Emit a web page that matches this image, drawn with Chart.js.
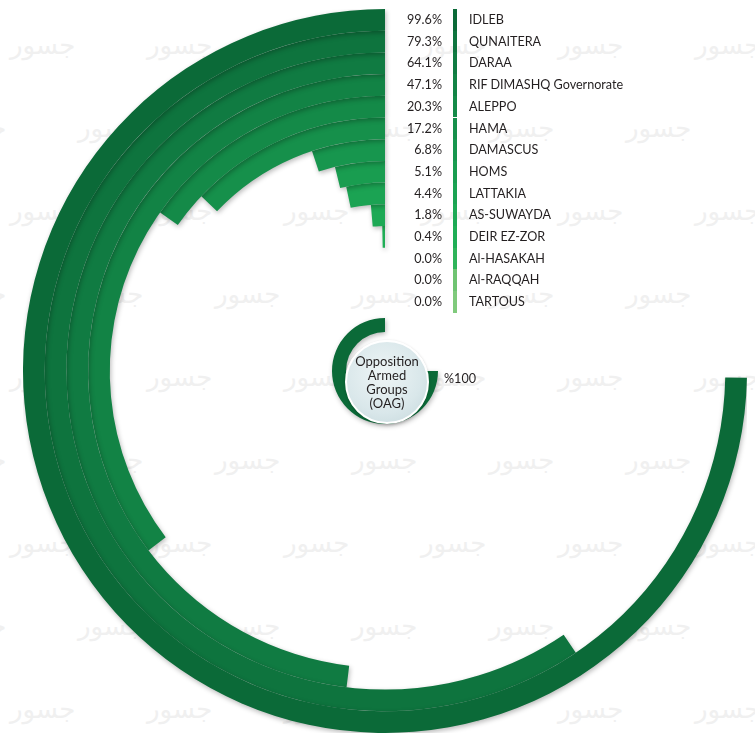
<!DOCTYPE html>
<html lang="en">
<head>
    <meta charset="UTF-8">
    <title>Opposition Armed Groups by governorate</title>
    <script src="https://cdn.jsdelivr.net/npm/chart.js"></script>
    <style>
        body {
            margin: 0;
            background-color: #fff;
            font-family: 'Lato', 'Open Sans', sans-serif;
            color: #231f20;
        }
        #wrap {
            position: relative;
            width: 755px;
            height: 739px;
            overflow: hidden;
        }
        #marks span {
            position: absolute;
            font-family: 'DejaVu Sans', sans-serif;
            font-size: 26px;
            color: #f0f0f0;
            white-space: nowrap;
        }
        #ringChart {
            position: absolute;
            left: 23px;
            top: 9px;
        }
        .row {
            position: absolute;
            height: 21.7px;
            line-height: 21.7px;
            font-size: 12.6px;
        }
        .pct {
            left: 380px;
            width: 62px;
            text-align: right;
        }
        .name {
            left: 469px;
            white-space: nowrap;
        }
        .strip {
            left: 453px;
            width: 4px;
        }
        #oagCircle {
            position: absolute;
            left: 345px;
            top: 340px;
            width: 80px;
            height: 80px;
            border-radius: 50%;
            border: 2px solid #fff;
            background: radial-gradient(circle at 45% 40%, #eef5f6 0%, #d9e7ea 60%, #c3d6da 100%);
            box-shadow: 0 1px 3px rgba(0,0,0,0.25);
            display: flex;
            align-items: center;
            justify-content: center;
            text-align: center;
            font-size: 13px;
            line-height: 14px;
        }
        #oagValue {
            position: absolute;
            left: 444px;
            top: 371px;
            font-size: 12.6px;
        }
    </style>
</head>
<body>

<div id="wrap">
    <div id="marks"></div>
    <canvas id="ringChart" width="724" height="724"></canvas>
    <div id="legend"></div>
    <div id="oagCircle">Opposition<br>Armed<br>Groups<br>(OAG)</div>
    <div id="oagValue"></div>
</div>

<script>
    // values (share of each governorate, %)
    const regions = ['IDLEB', 'QUNAITERA', 'DARAA', 'RIF DIMASHQ Governorate', 'ALEPPO', 'HAMA',
        'DAMASCUS', 'HOMS', 'LATTAKIA', 'AS-SUWAYDA', 'DEIR EZ-ZOR', 'Al-HASAKAH', 'Al-RAQQAH', 'TARTOUS'];
    const shares = [99.6, 79.3, 64.1, 47.1, 20.3, 17.2, 6.8, 5.1, 4.4, 1.8, 0.4, 0.0, 0.0, 0.0];
    const oagShare = 100;
    const oagValueLabel = '%100';

    const ringColors = ['#0b6a38', '#0e743e', '#107b42', '#128345', '#148a48', '#16904b',
        '#17964e', '#199d50', '#1ba353', '#1da955', '#20ae56', '#2fb45a', '#6fc472', '#80ca7c'];
    const clear = 'rgba(0,0,0,0)';

    // watermark layer
    const marks = document.getElementById('marks');
    for (let r = 0; r < 9; r++) {
        for (let c = -1; c < 6; c++) {
            const s = document.createElement('span');
            s.textContent = 'جسور';
            s.style.left = (c * 137 + 10 + (r % 2 ? 68 : 0)) + 'px';
            s.style.top = (r * 83 + 30) + 'px';
            marks.appendChild(s);
        }
    }

    // legend rows next to the top of the rings
    const legend = document.getElementById('legend');
    regions.forEach(function(name, i) {
        const top = 9 + i * 21.7;
        const pct = document.createElement('div');
        pct.className = 'row pct';
        pct.style.top = top + 'px';
        pct.textContent = shares[i].toFixed(1) + '%';
        const strip = document.createElement('div');
        strip.className = 'row strip';
        strip.style.top = top + 'px';
        strip.style.background = ringColors[i];
        const label = document.createElement('div');
        label.className = 'row name';
        label.style.top = top + 'px';
        label.textContent = name;
        legend.appendChild(pct);
        legend.appendChild(strip);
        legend.appendChild(label);
    });
    document.getElementById('oagValue').textContent = oagValueLabel;

    // one ring per governorate, drawn counter-clockwise from 12 o'clock
    const datasets = regions.map(function(name, i) {
        return {
            label: name,
            data: [100 - shares[i], shares[i]],
            backgroundColor: [clear, ringColors[i]],
            borderWidth: 0,
            weight: 21.7
        };
    });
    datasets.push({ label: 'gap', data: [100, 0], backgroundColor: [clear, clear], borderWidth: 0, weight: 5.2 });
    datasets.push({
        label: 'Opposition Armed Groups (OAG)',
        data: [100 - oagShare, oagShare],
        backgroundColor: [clear, '#0b6a38'],
        borderWidth: 0,
        weight: 14
    });

    const ringShadow = {
        id: 'ringShadow',
        beforeDatasetDraw: function(chart) {
            const c = chart.ctx;
            c.save();
            c.shadowColor = 'rgba(0,0,0,0.28)';
            c.shadowBlur = 5;
            c.shadowOffsetX = 1;
            c.shadowOffsetY = 2;
        },
        afterDatasetDraw: function(chart) {
            chart.ctx.restore();
        }
    };

    new Chart(document.getElementById('ringChart').getContext('2d'), {
        type: 'doughnut',
        data: { labels: ['rest', 'share'], datasets: datasets },
        options: {
            responsive: false,
            animation: false,
            events: [],
            rotation: 90,
            circumference: 270,
            cutout: 39,
            layout: { padding: 0 },
            plugins: {
                legend: { display: false },
                tooltip: { enabled: false }
            }
        },
        plugins: [ringShadow]
    });
</script>

</body>
</html>
